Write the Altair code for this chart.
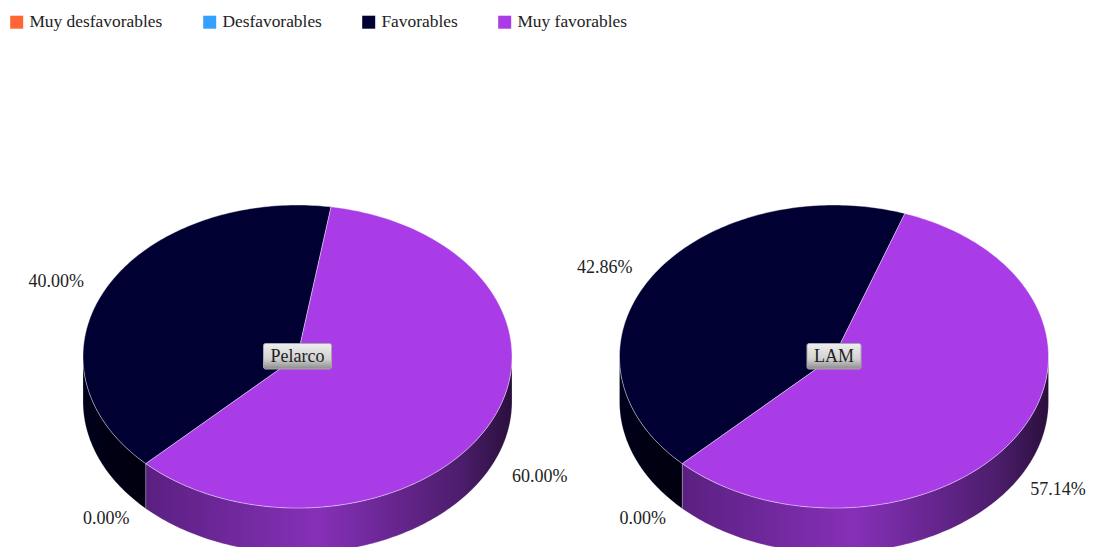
import math
import altair as alt

categories = ["Muy desfavorables", "Desfavorables", "Favorables", "Muy favorables"]
colors = ["#FF6633", "#33A1FF", "#000033", "#A93CE6"]
pies = ["Pelarco", "LAM"]
values = {"Pelarco": [0.0, 0.0, 40.0, 60.0], "LAM": [0.0, 0.0, 42.86, 57.14]}

W, H = 1079, 539
CX = {"Pelarco": 289.5, "LAM": 826.0}
CY, RX, RY, DEPTH = 348.5, 214.5, 151.5, 45
START = 225.0
FONT = "Liberation Serif"
wall_stops = {
    "Favorables": [(0, "#00001c"), (0.47, "#000012"), (1, "#000010")],
    "Muy favorables": [(0, "#5a2080"), (0.47, "#8630B8"), (0.86, "#4c1d6c"), (1, "#2a0f3c")],
}


def pt(cx, a, dy=0.0):
    r = math.radians(a)
    return [cx + RX * math.sin(r), CY - RY * math.cos(r) + dy]


def arc(cx, a0, a1, dy=0.0):
    n = max(2, int(abs(a1 - a0)) + 1)
    return [pt(cx, a0 + (a1 - a0) * i / n, dy) for i in range(n + 1)]


def feature(cat, ring):
    return {"type": "Feature", "properties": {"cat": cat},
            "geometry": {"type": "Polygon", "coordinates": [ring + [ring[0]]]}}


tops, walls, labels, boxes = [], {c: [] for c in categories}, [], []
for pie in pies:
    cx = CX[pie]
    angle = START
    for cat, v in zip(categories, values[pie]):
        sweep = v * 3.6
        a0, a1 = angle, angle + sweep
        if v > 0:
            tops.append(feature(cat, [[cx, CY]] + arc(cx, a0, a1)))
            for off in (0, 360):
                lo, hi = max(a0, 90 + off), min(a1, 270 + off)
                if lo < hi:
                    walls[cat].append(feature(cat, arc(cx, lo, hi) + arc(cx, hi, lo, DEPTH)))
        mid = math.radians((a0 + a1) / 2)
        x = min(cx + 0.5 + RX * 1.265 * math.sin(mid), W - 29)
        c = math.cos(mid)
        y = CY - RY * c + (8 - 30 * c if c > 0 else 46 - 13 * c)
        if v > 0 or cat == categories[1]:
            labels.append({"x": x, "y": y, "t": f"{v:.2f}%"})
        angle = a1
    half = {"Pelarco": 34, "LAM": 27}[pie]
    boxes.append({"x": cx - half, "x2": cx + half, "y": CY - 13, "y2": CY + 12.5,
                  "tx": cx, "ty": CY + 0.7, "name": pie})

proj = dict(type="identity", scale=1, translate=[0, 0])
xs = alt.Scale(domain=[0, W])
ys = alt.Scale(domain=[H, 0])
layers = []

for cat, feats in walls.items():
    if feats:
        grad = alt.LinearGradient(gradient="linear", x1=0, x2=1, y1=0, y2=0, stops=[
            alt.GradientStop(offset=o, color=col) for o, col in wall_stops[cat]])
        layers.append(alt.Chart(alt.Data(values=feats)).mark_geoshape(
            fill=grad, stroke="#ffffff", strokeOpacity=0.3, strokeWidth=0.7).project(**proj))

layers.append(alt.Chart(alt.Data(values=tops)).mark_geoshape(
    stroke="#ffffff", strokeOpacity=0.4, strokeWidth=1).encode(
    fill=alt.Fill("properties.cat:N", scale=alt.Scale(domain=categories, range=colors),
                  legend=alt.Legend(
                      title=None, orient="none", legendX=0, legendY=5.5, direction="horizontal",
                      columns=4, gridAlign="none", columnPadding=38, symbolType="square",
                      symbolSize=169, symbolStrokeWidth=0, labelFont=FONT, labelFontSize=17.4,
                      labelColor="#222222", labelOffset=4, labelLimit=300))
).project(**proj))

box_grad = alt.LinearGradient(gradient="linear", x1=0, x2=0, y1=0, y2=1, stops=[
    alt.GradientStop(offset=0, color="#eeeeee"),
    alt.GradientStop(offset=0.6, color="#d2d2d2"),
    alt.GradientStop(offset=1, color="#8c8c8c")])
layers.append(alt.Chart(alt.Data(values=boxes)).mark_rect(
    fill=box_grad, stroke="#a8a8a8", strokeWidth=1, cornerRadius=2).encode(
    x=alt.X("x:Q", scale=xs, axis=None), x2="x2:Q",
    y=alt.Y("y:Q", scale=ys, axis=None), y2="y2:Q"))
layers.append(alt.Chart(alt.Data(values=boxes)).mark_text(
    font=FONT, fontSize=18, color="#222222", baseline="middle").encode(
    x=alt.X("tx:Q", scale=xs, axis=None), y=alt.Y("ty:Q", scale=ys, axis=None), text="name:N"))
layers.append(alt.Chart(alt.Data(values=labels)).mark_text(
    font=FONT, fontSize=18, color="#222222", baseline="middle").encode(
    x=alt.X("x:Q", scale=xs, axis=None), y=alt.Y("y:Q", scale=ys, axis=None), text="t:N"))

chart = alt.layer(*layers).properties(
    width=W, height=H, padding=0, background="white",
    autosize=alt.AutoSizeParams(type="none"),
).configure_view(stroke=None)

chart.save("out.html", embed_options={"renderer": "svg", "actions": False})
